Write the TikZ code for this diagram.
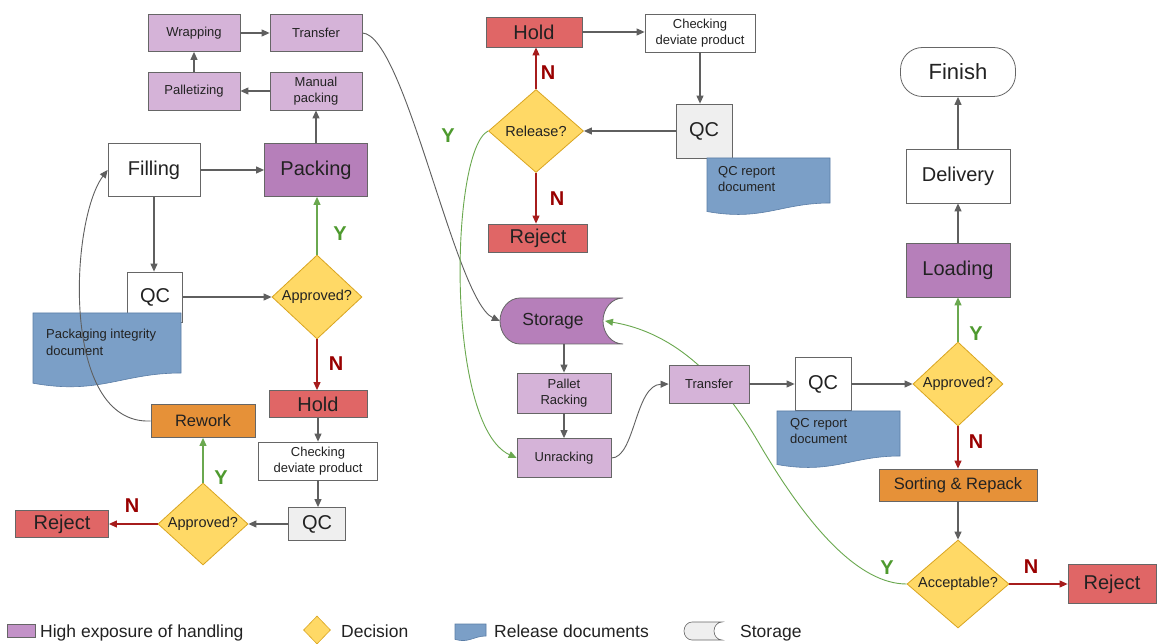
\documentclass[tikz,border=0pt]{standalone}
\usepackage{fontspec}
\setmainfont{Liberation Sans}
\usetikzlibrary{arrows.meta,shapes.geometric}
\definecolor{lpur}{HTML}{D5B3D8}
\definecolor{dpur}{HTML}{B67FBA}
\definecolor{legpur}{HTML}{C392C8}
\definecolor{rbox}{HTML}{E06666}
\definecolor{obox}{HTML}{E69138}
\definecolor{ylw}{HTML}{FFD966}
\definecolor{ybord}{HTML}{D9A520}
\definecolor{dblue}{HTML}{7B9FC7}
\definecolor{dbord}{HTML}{5A7DA6}
\definecolor{gbox}{HTML}{EFEFEF}
\definecolor{bord}{HTML}{666666}
\definecolor{agray}{HTML}{5F5F5F}
\definecolor{agreen}{HTML}{6AA84F}
\definecolor{ared}{HTML}{A61C1C}
\definecolor{ytxt}{HTML}{4E9A2E}
\definecolor{ntxt}{HTML}{990000}
\definecolor{txt}{HTML}{222222}
\newcommand\FSbig{\fontsize{20}{23}\selectfont}
\newcommand\FShuge{\fontsize{22}{25}\selectfont}
\newcommand\FSsto{\fontsize{17.5}{20}\selectfont}
\newcommand\FSmid{\fontsize{16.5}{19}\selectfont}
\newcommand\FSdec{\fontsize{14.5}{17}\selectfont}
\newcommand\FSsmall{\fontsize{13}{16.5}\selectfont}
\newcommand\FSyn{\fontsize{20}{23}\selectfont\bfseries}
\newcommand\FSleg{\fontsize{17.5}{20}\selectfont}
\tikzset{
  box/.style={draw=bord, line width=0.8pt, inner sep=1pt, align=center, text=txt},
  sz/.style 2 args={minimum width=#1pt, minimum height=#2pt},
  pl/.style={box, fill=lpur, font=\FSsmall},
  pd/.style={box, fill=dpur, font=\FSbig},
  wb/.style={box, fill=white, font=\FSbig},
  ws/.style={box, fill=white, font=\FSsmall},
  gb/.style={box, fill=gbox, font=\FSbig},
  rb/.style={box, fill=rbox, font=\FSbig},
  ob/.style={box, fill=obox, font=\FSmid},
  dec/.style={diamond, aspect=1.1, draw=ybord, line width=0.8pt, fill=ylw, inner sep=0pt, text=txt, font=\FSdec},
  doctxt/.style={anchor=north west, inner sep=0pt, align=left, text=txt, font=\FSsmall},
  docst/.style={draw=dbord, line width=0.6pt, fill=dblue},
  arr/.style={draw=agray, line width=1.1pt, -{Triangle[length=8pt,width=7pt]}},
  garr/.style={arr, draw=agreen},
  rarr/.style={arr, draw=ared},
  ylab/.style={font=\FSyn, text=ytxt, inner sep=0pt},
  nlab/.style={font=\FSyn, text=ntxt, inner sep=0pt},
  leg/.style={anchor=base west, inner sep=0pt, font=\FSleg, text=txt}
}
\newcommand\docpath[5]{\filldraw[docst] (#1,#2) -- (#3,#2) -- (#3,{#4-#5}) .. controls ({#1+0.6*(#3-#1)},{#4-#5}) and ({#1+0.45*(#3-#1)},{#4+0.85*#5}) .. (#1,{#4-0.15*#5}) -- cycle;}
\pgfdeclarelayer{bgw}
\pgfdeclarelayer{bg}
\pgfsetlayers{bgw,bg,main}
\begin{document}
\begin{tikzpicture}[x=1pt,y=-1pt]
\begin{pgfonlayer}{bgw}
\fill[white] (0,0) rectangle (1160,644);
\end{pgfonlayer}
\useasboundingbox (0,0) rectangle (1160,644);

% ---- left column
\node[pl, sz={92}{37}] (wrap) at (194,33) {Wrapping};
\node[pl, sz={92}{37}] (trA) at (316,33) {Transfer};
\node[pl, sz={92}{38}] (pal) at (194,91) {Palletizing};
\node[pl, sz={92}{38}] (man) at (316,91) {Manual\\packing};
\node[wb, sz={92}{53}] (fill) at (154,170) {Filling};
\node[pd, sz={103}{53}] (pack) at (316,170) {Packing};
\node[wb, sz={55}{50}] (qc1) at (155,297) {QC};
\docpath{33}{313}{181}{385}{12}
\node[doctxt] (doc1) at (46,329) {Packaging integrity\\document};
\node[dec, sz={90}{84}] (ap1) at (317,297) {Approved?};
\node[rb, sz={98}{27}] (hold1) at (318,404) {Hold};
\node[ws, sz={119}{38}] (chk1) at (318,461) {Checking\\deviate product};
\node[gb, sz={57}{33}] (qc2) at (317,524) {QC};
\node[dec, sz={90}{82}] (ap2) at (203,524) {Approved?};
\node[rb, sz={93}{27}] (rej1) at (62,524) {Reject};
\node[ob, sz={104}{33}] (rew) at (203,421) {Rework};

% ---- middle
\node[rb, sz={96}{30}] (holdT) at (534,32) {Hold};
\node[ws, sz={110}{38}] (chkT) at (700,33) {Checking\\deviate product};
\node[gb, sz={56}{54}] (qcT) at (704,131) {QC};
\docpath{707}{158}{830}{213}{10}
\node[doctxt] (docT) at (718,166) {QC report\\document};
\node[dec, sz={95}{83}] (rel) at (536,131) {Release?};
\node[rb, sz={99}{28}] (rejT) at (538,238) {Reject};

\filldraw[draw=bord, line width=0.8pt, fill=dpur] (520,298) -- (623,298) .. controls (612,298) and (603,308.4) .. (603,321) .. controls (603,333.6) and (612,344) .. (623,344) -- (520,344) .. controls (509,344) and (500,333.6) .. (500,321) .. controls (500,308.4) and (509,298) .. (520,298) -- cycle;
\node[inner sep=0pt, font=\FSsto, text=txt, sz={106}{46}] (stor) at (553,321) {Storage};
\coordinate (storin) at (605,321);
\node[pl, sz={94}{40}] (prk) at (564,393) {Pallet\\Racking};
\node[pl, sz={94}{39}] (unr) at (564,458) {Unracking};
\node[pl, sz={80}{38}] (trB) at (709,384) {Transfer};
\node[wb, sz={56}{53}] (qcR) at (823,384) {QC};
\docpath{777}{411}{900}{466}{10}
\node[doctxt] (docR) at (790,418) {QC report\\document};

% ---- right
\node[dec, sz={90}{84}] (apR) at (958,384) {Approved?};
\node[pd, sz={104}{54}] (load) at (958,270) {Loading};
\node[wb, sz={104}{54}] (deliv) at (958,176) {Delivery};
\node[wb, font=\FShuge, sz={115}{49}, rounded corners=22pt] (fin) at (958,72) {Finish};
\node[ob, sz={158}{32}] (sort) at (958,485) {Sorting \& Repack};
\node[dec, sz={102}{88}, aspect=1.15] (acc) at (958,584) {Acceptable?};
\node[rb, sz={88}{39}] (rejR) at (1112,584) {Reject};

% ---- labels
\node[ylab] (yl1) at (340,234) {Y};
\node[nlab] (nl1) at (336,364) {N};
\node[ylab] (yl2) at (221,478) {Y};
\node[nlab] (nl2) at (132,506) {N};
\node[nlab] (nl3) at (548,73) {N};
\node[nlab] (nl4) at (557,199) {N};
\node[ylab] (yl3) at (448,136) {Y};
\node[ylab] (yl4) at (976,334) {Y};
\node[nlab] (nl5) at (976,442) {N};
\node[nlab] (nl6) at (1031,567) {N};
\node[ylab] (yl5) at (887,568) {Y};

% ---- straight connectors
\draw[arr] (wrap.east) -- (trA.west);
\draw[arr] (pal.north) -- (wrap.south);
\draw[arr] (man.west) -- (pal.east);
\draw[arr] (pack.north) -- (man.south);
\draw[arr] (fill.east) -- (pack.west);
\draw[arr] (fill.south) -- (fill.south |- qc1.north);
\draw[arr] (qc1.east) -- (ap1.west);
\draw[garr] (ap1.north) -- (ap1.north |- pack.south);
\draw[rarr] (ap1.south) -- (ap1.south |- hold1.north);
\draw[arr] (hold1.south) -- (chk1.north);
\draw[arr] (chk1.south) -- (chk1.south |- qc2.north);
\draw[arr] (qc2.west) -- (ap2.east);
\draw[garr] (ap2.north) -- (rew.south);
\draw[rarr] (ap2.west) -- (rej1.east);
\draw[arr] (holdT.east) -- (holdT.east -| chkT.west);
\draw[arr] (chkT.south) -- (chkT.south |- qcT.north);
\draw[arr] (qcT.west) -- (rel.east);
\draw[rarr] (rel.north) -- (rel.north |- holdT.south);
\draw[rarr] (rel.south) -- (rel.south |- rejT.north);
\draw[arr] (prk.north |- stor.south) -- (prk.north);
\draw[arr] (prk.south) -- (unr.north);
\draw[arr] (trB.east) -- (qcR.west);
\draw[arr] (qcR.east) -- (apR.west);
\draw[garr] (apR.north) -- (load.south);
\draw[arr] (load.north) -- (deliv.south);
\draw[arr] (deliv.north) -- (fin.south);
\draw[rarr] (apR.south) -- (sort.north);
\draw[arr] (sort.south) -- (acc.north);
\draw[rarr] (acc.east) -- (rejR.west);

% ---- curved connectors
\draw[arr, line width=0.9pt] (rew.west) .. controls (60,425) and (70,220) .. (fill.west);
\begin{pgfonlayer}{bg}
\draw[arr, line width=0.9pt] (trA.east) .. controls (405,35) and (455,300) .. (stor.west);
\draw[garr, line width=0.9pt] (rel.west) .. controls (450,150) and (445,425) .. (unr.west);
\draw[arr, line width=0.9pt] (unr.east) .. controls (635,458) and (635,385) .. (trB.west);
\draw[garr, line width=0.9pt] (acc.west) .. controls (860,584) and (810,530) .. (760,445) .. controls (735,402) and (690,335) .. (storin);
\end{pgfonlayer}

% ---- legend
\node[draw=bord, line width=0.6pt, fill=legpur, inner sep=0pt, minimum width=28pt, minimum height=13pt] (lg1) at (21,630.5) {};
\node[leg] (lt1) at (40,637) {High exposure of handling};
\node[diamond, draw=ybord, line width=0.6pt, fill=ylw, inner sep=0pt, minimum width=27pt, minimum height=28pt] (lg2) at (317,630) {};
\node[leg] (lt2) at (341,637) {Decision};
\docpath{455}{624}{486}{640}{4}
\node[leg] (lt3) at (494,637) {Release documents};
\filldraw[draw=bord, line width=0.6pt, fill=gbox] (692,622) -- (722,622) .. controls (717.6,622) and (714,626) .. (714,631) .. controls (714,636) and (717.6,640) .. (722,640) -- (692,640) .. controls (687.6,640) and (684,636) .. (684,631) .. controls (684,626) and (687.6,622) .. (692,622) -- cycle;
\node[leg] (lt4) at (740,637) {Storage};
\end{tikzpicture}
\end{document}
